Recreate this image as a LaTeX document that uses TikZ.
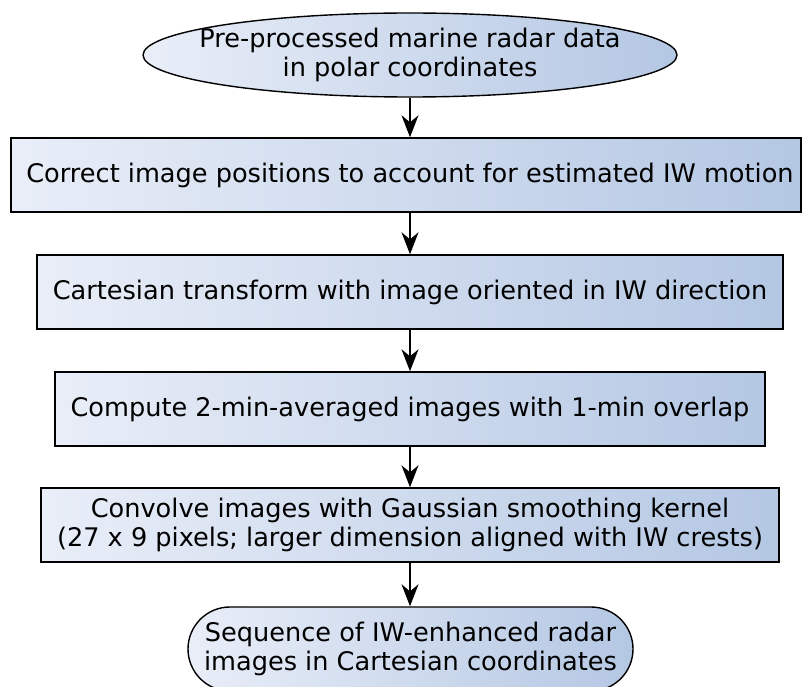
\documentclass[tikz,border=0pt]{standalone}
\usepackage{fontspec}
\setmainfont{DejaVu Sans}
\usetikzlibrary{shapes.geometric,arrows.meta}
\definecolor{gradL}{HTML}{E9EEF8}
\definecolor{gradR}{HTML}{B4C7E3}
\begin{document}
\begin{tikzpicture}[x=1pt,y=-1pt,
  every node/.style={font=\fontsize{25.6}{29}\selectfont, align=center, inner sep=0pt},
  shade/.style={draw=black, line width=1.4pt, left color=gradL, right color=gradR},
  procbox/.style={shade, rectangle, minimum height=74pt},
  arr/.style={line width=1.4pt, -{Stealth[length=22pt,width=17pt,inset=7pt]}}]
\useasboundingbox (0,0) rectangle (802,687);
\node[shade, ellipse, inner xsep=-22pt, minimum width=534pt, minimum height=84pt] (e) at (410,55)
  {Pre-processed marine radar data\\in polar coordinates};
\node[procbox, minimum width=790pt] (b1) at (406,175)
  {\hspace*{8pt}Correct image positions to account for estimated IW motion};
\node[procbox, minimum width=746pt] (b2) at (410,292)
  {Cartesian transform with image oriented in IW direction};
\node[procbox, minimum width=710pt] (b3) at (410,409)
  {Compute 2-min-averaged images with 1-min overlap};
\node[procbox, minimum width=738pt] (b4) at (410,525)
  {Convolve images with Gaussian smoothing kernel\\(27 x 9 pixels; larger dimension aligned with IW crests)};
\node[shade, rectangle, rounded corners=42pt, minimum width=445pt, minimum height=84pt] (f) at (410.5,649)
  {Sequence of IW-enhanced radar\\images in Cartesian coordinates};
\draw[arr] (e.south) -- (e.south |- b1.north);
\draw[arr] (b2.north |- b1.south) -- (b2.north);
\draw[arr] (b2.south) -- (b3.north);
\draw[arr] (b3.south) -- (b4.north);
\draw[arr] (b4.south) -- (b4.south |- f.north);
\end{tikzpicture}
\end{document}
